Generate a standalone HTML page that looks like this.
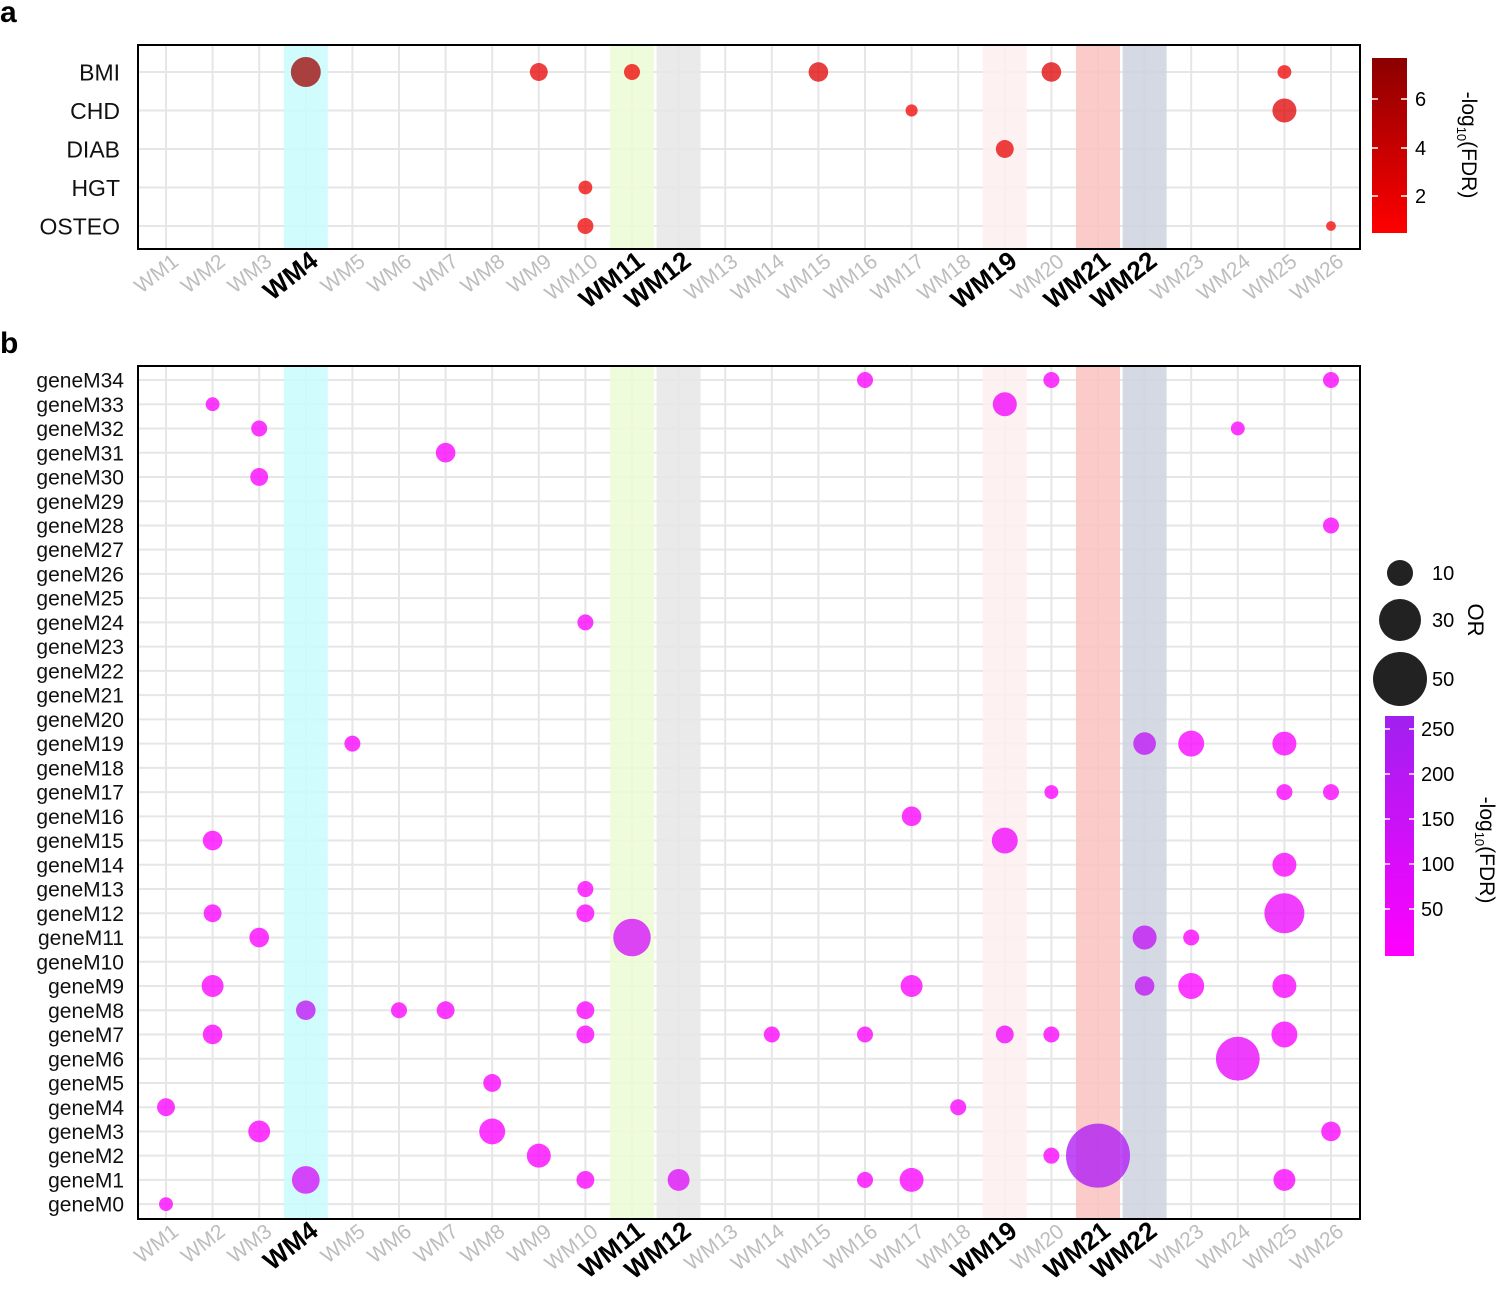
<!DOCTYPE html>
<html><head><meta charset="utf-8"><style>
body{margin:0;background:#fff}
svg{display:block;font-family:"Liberation Sans",Arial,sans-serif}
</style></head><body>
<svg id="c" width="1500" height="1293" viewBox="0 0 1500 1293"></svg>
<script>
const modules=['WM1','WM2','WM3','WM4','WM5','WM6','WM7','WM8','WM9','WM10','WM11','WM12','WM13','WM14','WM15','WM16','WM17','WM18','WM19','WM20','WM21','WM22','WM23','WM24','WM25','WM26'];
const highlighted=['WM4','WM11','WM12','WM19','WM21','WM22'];
const bandColors=['#c8fbfd','#ecfcd6','#e6e6e6','#fdeef0','#f9c2be','#ccd2df'];
const traitsA=['BMI','CHD','DIAB','HGT','OSTEO'];
const aMod=['WM4','WM9','WM11','WM15','WM20','WM25','WM17','WM25','WM19','WM10','WM10','WM26'];
const aTrait=['BMI','BMI','BMI','BMI','BMI','BMI','CHD','CHD','DIAB','HGT','OSTEO','OSTEO'];
const aSize=[14,5,4,6,6,3,2.3,9,5,3,4,1.5];
const aFdr=[6.5,2,1.5,2.5,2.5,1.5,1.2,2.5,2,1.5,1.5,1];
const genes=[];for(let i=34;i>=0;i--)genes.push('geneM'+i);
const bGene=['geneM34','geneM34','geneM34','geneM33','geneM33','geneM32','geneM32','geneM31','geneM30','geneM28','geneM24',
'geneM19','geneM19','geneM19','geneM19','geneM17','geneM17','geneM17','geneM16','geneM15','geneM15','geneM14','geneM13',
'geneM12','geneM12','geneM12','geneM11','geneM11','geneM11','geneM11','geneM9','geneM9','geneM9','geneM9','geneM9',
'geneM8','geneM8','geneM8','geneM8','geneM7','geneM7','geneM7','geneM7','geneM7','geneM7','geneM7','geneM6','geneM5',
'geneM4','geneM4','geneM3','geneM3','geneM3','geneM2','geneM2','geneM2','geneM1','geneM1','geneM1','geneM1','geneM1','geneM1','geneM0'];
const bMod=['WM16','WM20','WM26','WM2','WM19','WM3','WM24','WM7','WM3','WM26','WM10',
'WM5','WM22','WM23','WM25','WM20','WM25','WM26','WM17','WM2','WM19','WM25','WM10',
'WM2','WM10','WM25','WM3','WM11','WM22','WM23','WM2','WM17','WM22','WM23','WM25',
'WM4','WM6','WM7','WM10','WM2','WM10','WM14','WM16','WM19','WM20','WM25','WM24','WM8',
'WM1','WM18','WM3','WM8','WM26','WM9','WM20','WM21','WM4','WM10','WM12','WM16','WM17','WM25','WM1'];
const bOR=[4,4,4,3,9,4,3,6,5,4,4,
4,8,10.5,9,3,4,4,6,6,10.5,9,4,
5,5,25,6,22,9,4,7.5,7.5,6,10.5,9,
6,4,5,5,6,5,4,4,5,4,10.5,30,5,
5,4,7.5,10.5,6,9,4,64,12,5,7.5,4,9,7.5,3];
const bFdr=[10,10,10,10,30,10,10,10,10,10,10,
10,180,20,20,10,10,10,10,10,40,20,10,
10,10,50,10,120,170,10,10,10,170,10,10,
170,10,10,10,10,10,10,10,40,10,20,60,10,
10,10,10,10,10,10,10,220,120,10,90,10,10,10,10];

const svg=document.getElementById('c');const NS='http://www.w3.org/2000/svg';
function el(t,a,p){const e=document.createElementNS(NS,t);for(const k in a)e.setAttribute(k,a[k]);(p||svg).appendChild(e);return e;}
function xs(m){return 166+modules.indexOf(m)*46.6;}
function lerp(a,b,t){return Math.round(a+(b-a)*t);}
function redCol(v){const t=Math.max(0,Math.min(1,(v-0.5)/7.2));return `rgb(${lerp(255,139,t)},${lerp(0,0,t)},0)`;}
function magCol(v){const t=Math.max(0,Math.min(1,v/264));return `rgb(${lerp(255,160,t)},${lerp(0,32,t)},${lerp(255,240,t)})`;}

function panel(top,bottom,rows,yfun,pre,labFont,labX,labY){
 const g=el('g',{});
 modules.forEach(m=>{const l=el('line',{x1:xs(m),x2:xs(m),y1:top,y2:bottom,stroke:'#e6e6e6','stroke-width':2},g);
  });
 rows.forEach(r=>{const l=el('line',{x1:138,x2:1360,y1:yfun(r),y2:yfun(r),stroke:'#e6e6e6','stroke-width':2},g);
  
  const t=el('text',{x:labX,y:yfun(r)+labFont*0.36,'text-anchor':'end','font-size':labFont,fill:'#111'},g);t.textContent=r;
  });
 highlighted.forEach((m,i)=>{const r=el('rect',{x:xs(m)-22,y:top,width:44,height:bottom-top,fill:bandColors[i],opacity:0.85},g);
  });
 modules.forEach(m=>{const h=highlighted.includes(m);
  const t=el('text',{transform:`translate(${xs(m)+14},${labY}) rotate(-38)`,'text-anchor':'end','font-size':h?26:21,'font-weight':h?'bold':'normal',fill:h?'#000':'#bdbdbd'},g);
  t.textContent=m;});
 return g;
}
// panel a
const yA=r=>72+traitsA.indexOf(r)*38.5;
const gA=panel(45,249,traitsA,yA,'a',23,120,264);
aMod.forEach((m,i)=>{const c=el('circle',{cx:xs(m),cy:yA(aTrait[i]),r:4*Math.sqrt(aSize[i]),fill:redCol(aFdr[i]),opacity:0.75},gA);
 });
let bx=el('rect',{x:138,y:45,width:1222,height:204,fill:'none',stroke:'#000','stroke-width':2});
// panel b
const yB=g=>380+genes.indexOf(g)*24.24;
const gB=panel(366,1219,genes,yB,'b',21,124,1234);
bGene.forEach((g,i)=>{const c=el('circle',{cx:xs(bMod[i]),cy:yB(g),r:4*Math.sqrt(bOR[i]),fill:magCol(bFdr[i]),opacity:0.78},gB);
 });
bx=el('rect',{x:138,y:366,width:1222,height:853,fill:'none',stroke:'#000','stroke-width':2});
// panel letters
let t=el('text',{x:0,y:22,'font-size':30,'font-weight':'bold'});t.textContent='a';
t=el('text',{x:0,y:353,'font-size':30,'font-weight':'bold'});t.textContent='b';
// colorbars
const defs=el('defs',{});
let lg=el('linearGradient',{id:'ga',x1:0,y1:1,x2:0,y2:0},defs);el('stop',{offset:0,'stop-color':'#ff0000'},lg);el('stop',{offset:1,'stop-color':'#8b0000'},lg);
lg=el('linearGradient',{id:'gb',x1:0,y1:1,x2:0,y2:0},defs);el('stop',{offset:0,'stop-color':'#ff00ff'},lg);el('stop',{offset:1,'stop-color':'#a020f0'},lg);
let r=el('rect',{x:1372,y:58,width:35,height:175,fill:'url(#ga)'});
[[6,99],[4,148],[2,196]].forEach(([v,y])=>{el('line',{x1:1372,x2:1378,y1:y,y2:y,stroke:'#fff','stroke-width':1.5});el('line',{x1:1401,x2:1407,y1:y,y2:y,stroke:'#fff','stroke-width':1.5});
 const tt=el('text',{x:1415,y:y+7,'font-size':20});tt.textContent=v;});
t=el('text',{transform:'translate(1462,145) rotate(90)','text-anchor':'middle','font-size':21});t.innerHTML='-log<tspan font-size="13" dy="5">10</tspan><tspan dy="-5">(FDR)</tspan>';

[[10,573,13],[30,620,21],[50,679,27]].forEach(([v,y,rr])=>{const c=el('circle',{cx:1400,cy:y,r:rr,fill:'#222'});
 const tt=el('text',{x:1432,y:y+7,'font-size':20});tt.textContent=v;});
t=el('text',{transform:'translate(1468,620) rotate(90)','text-anchor':'middle','font-size':22});t.textContent='OR';
r=el('rect',{x:1385,y:716,width:29,height:240,fill:'url(#gb)'});
[[250,729],[200,774],[150,819],[100,864],[50,909]].forEach(([v,y])=>{el('line',{x1:1385,x2:1390,y1:y,y2:y,stroke:'#fff','stroke-width':1.5});el('line',{x1:1409,x2:1414,y1:y,y2:y,stroke:'#fff','stroke-width':1.5});
 const tt=el('text',{x:1421,y:y+7,'font-size':20});tt.textContent=v;});
t=el('text',{transform:'translate(1480,850) rotate(90)','text-anchor':'middle','font-size':21});t.innerHTML='-log<tspan font-size="13" dy="5">10</tspan><tspan dy="-5">(FDR)</tspan>';

</script>
</body></html>
